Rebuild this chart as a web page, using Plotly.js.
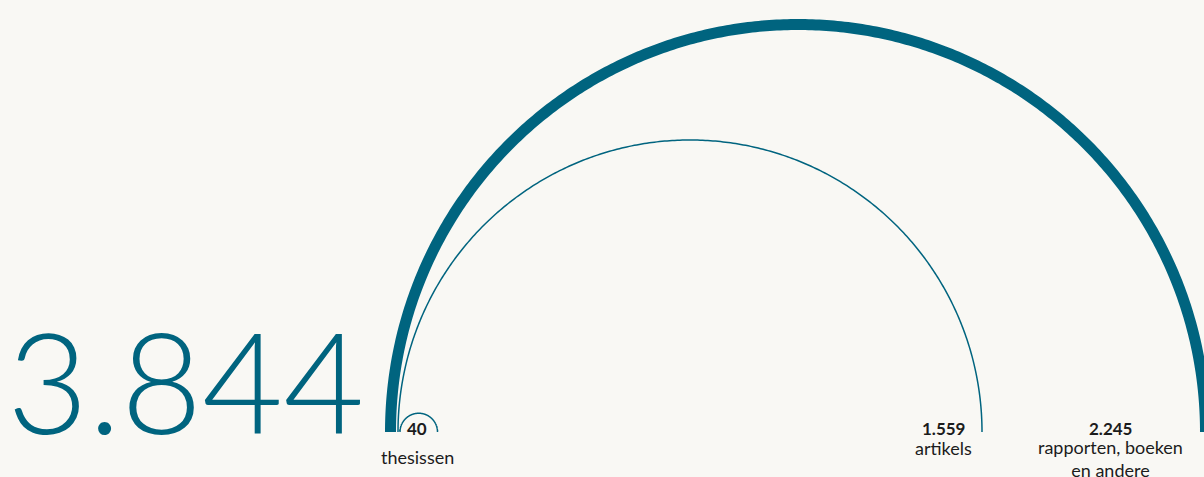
<!DOCTYPE html>
<html>
<head>
<meta charset="utf-8">
<script src="https://cdn.plot.ly/plotly-3.0.1.min.js"></script>
<style>
  html, body { margin: 0; padding: 0; background: #f9f8f4; }
  #chart { width: 1204px; height: 477px; }
</style>
</head>
<body>
<div id="chart"></div>
<script>
// ---- data ----
const categories = ['thesissen', 'artikels', 'rapporten, boeken<br>en andere'];
const counts = [40, 1559, 2245];
// arc extents (axis units)
const arcLeft = [400, 398, 390.5];
const arcSpan = [37.5, 584, 815];
const arcWidth = [1.5, 1.5, 11];

const teal = '#00647f';
const ink = '#1c1c1c';
const baseY = 432;

function fmt(n) {
  return String(n).replace(/\B(?=(\d{3})+(?!\d))/g, '.');
}
const total = counts.reduce((a, b) => a + b, 0);

const traces = [];
const annotations = [];
for (let i = 0; i < counts.length; i++) {
  const r = arcSpan[i] / 2;
  const cx = arcLeft[i] + r;
  const xs = [], ys = [];
  const N = 360;
  for (let k = 0; k <= N; k++) {
    const t = Math.PI - Math.PI * k / N;
    xs.push(cx + r * Math.cos(t));
    ys.push(baseY - r * Math.sin(t));
  }
  traces.push({
    type: 'scatter', mode: 'lines', x: xs, y: ys,
    line: { color: teal, width: arcWidth[i], shape: 'linear', simplify: false },
    hoverinfo: 'skip', showlegend: false, cliponaxis: false
  });
}

// label placement
const labelX = [417, 943, 1110];
const labelY = [457, 448, 458];
annotations.push(...counts.map((c, i) => ({
  x: labelX[i], y: 428, xref: 'x', yref: 'y',
  text: '<b>' + fmt(c) + '</b>', showarrow: false,
  font: { family: 'Lato', size: 17, color: ink },
  xanchor: 'center', yanchor: 'middle'
})));
annotations.push(...categories.map((c, i) => ({
  x: labelX[i], y: labelY[i], xref: 'x', yref: 'y',
  text: c, showarrow: false,
  font: { family: 'Lato', size: 18, color: ink },
  xanchor: 'center', yanchor: 'middle', align: 'center'
})));
annotations.push({
  x: 5, y: 466, xref: 'x', yref: 'y',
  text: fmt(total), showarrow: false,
  font: { family: 'Lato', size: 140, color: teal, weight: 300 },
  xanchor: 'left', yanchor: 'bottom'
});

const layout = {
  width: 1204, height: 477,
  margin: { l: 0, r: 0, t: 0, b: 0 },
  paper_bgcolor: '#f9f8f4', plot_bgcolor: '#f9f8f4',
  xaxis: { range: [0, 1204], visible: false, fixedrange: true },
  yaxis: { range: [477, 0], visible: false, fixedrange: true },
  annotations: annotations,
  showlegend: false
};
Plotly.newPlot('chart', traces, layout, { displayModeBar: false, staticPlot: true });
</script>
</body>
</html>
